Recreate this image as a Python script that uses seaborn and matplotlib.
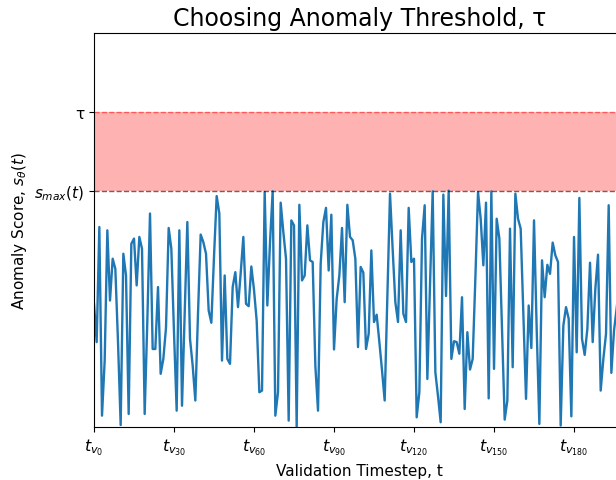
import numpy as np
import pandas as pd
import matplotlib
matplotlib.use("Agg")
import matplotlib.pyplot as plt
import seaborn as sns

# Anomaly scores over the validation window (one value per timestep)
scores = [
    0.521, 0.359, 0.846, 0.048, 0.280, 0.832, 0.535, 0.712, 0.669, 0.360,
    0.008, 0.733, 0.641, 0.055, 0.775, 0.797, 0.599, 0.804, 0.754, 0.055,
    0.450, 0.903, 0.330, 0.330, 0.592, 0.225, 0.288, 0.420, 0.842, 0.754,
    0.400, 0.069, 0.832, 0.090, 0.480, 0.867, 0.373, 0.260, 0.112, 0.480,
    0.814, 0.782, 0.733, 0.493, 0.441, 0.720, 0.977, 0.903, 0.281, 0.641,
    0.288, 0.267, 0.592, 0.655, 0.507, 0.650, 0.804, 0.521, 0.511, 0.679,
    0.580, 0.450, 0.147, 0.154, 0.994, 0.514, 0.780, 0.997, 0.048, 0.147,
    0.949, 0.825, 0.712, 0.027, 0.874, 0.853, 0.000, 0.940, 0.620, 0.641,
    0.853, 0.705, 0.698, 0.260, 0.069, 0.690, 0.867, 0.927, 0.662, 0.898,
    0.328, 0.542, 0.641, 0.842, 0.528, 0.940, 0.804, 0.790, 0.712, 0.338,
    0.677, 0.653, 0.330, 0.394, 0.747, 0.444, 0.475, 0.360, 0.240, 0.112,
    0.550, 0.987, 0.750, 0.528, 0.444, 0.832, 0.479, 0.444, 0.927, 0.698,
    0.712, 0.041, 0.147, 0.797, 0.938, 0.203, 0.600, 0.997, 0.232, 0.130,
    0.020, 0.983, 0.554, 1.000, 0.288, 0.363, 0.359, 0.310, 0.549, 0.076,
    0.401, 0.243, 0.288, 0.627, 0.994, 0.881, 0.684, 0.949, 0.121, 0.997,
    0.246, 0.881, 0.797, 0.415, 0.031, 0.112, 0.839, 0.253, 0.987, 0.881,
    0.839, 0.486, 0.119, 0.514, 0.334, 0.874, 0.415, 0.013, 0.705, 0.549,
    0.686, 0.648, 0.780, 0.726, 0.698, 0.006, 0.429, 0.507, 0.458, 0.045,
    0.804, 0.316, 0.969, 0.373, 0.305, 0.415, 0.695, 0.359, 0.585, 0.729,
    0.154, 0.288, 0.394, 0.938, 0.229, 0.408, 0.500, 0.620, 0.350, 0.700,
]

tick_steps = [0, 30, 60, 90, 120, 150, 180]
tick_labels = [r"$t_{v_{%d}}$" % s for s in tick_steps]
ytick_labels = [r"$s_{max}(t)$", "τ"]

df = pd.DataFrame({"t": np.arange(len(scores)), "score": scores})

s_max = df["score"].max()
gap = (s_max - df["score"].min()) / 3.0
tau = s_max + gap
y_low = df["score"].min()
y_high = s_max + 2 * gap

fig = plt.figure(figsize=(6.16, 4.81), dpi=100)
ax = fig.add_axes([0.1526, 0.1102, 0.8615, 0.8191])

sns.lineplot(data=df, x="t", y="score", ax=ax, color="#1f77b4", linewidth=1.7)

# threshold band between the max validation score and tau
ax.axhspan(s_max, tau, color="red", alpha=0.3, linewidth=0)
ax.axhline(tau, color="red", linestyle="--", linewidth=1.0, alpha=0.5)
ax.axhline(s_max, color="black", linestyle="--", linewidth=1.0, alpha=0.6)

ax.set_xlim(0, len(scores) - 1)
ax.set_ylim(y_low, y_high)
ax.set_xticks(tick_steps)
ax.set_xticklabels(tick_labels, fontsize=11.5)
ax.set_yticks([s_max, tau])
ax.set_yticklabels(ytick_labels, fontsize=11)

ax.set_xlabel("Validation Timestep, t", fontsize=11)
ax.set_ylabel(r"Anomaly Score, $s_{\theta}(t)$", fontsize=11)
ax.set_title("Choosing Anomaly Threshold, τ", fontsize=17)

fig.savefig("out.png", dpi=100)
